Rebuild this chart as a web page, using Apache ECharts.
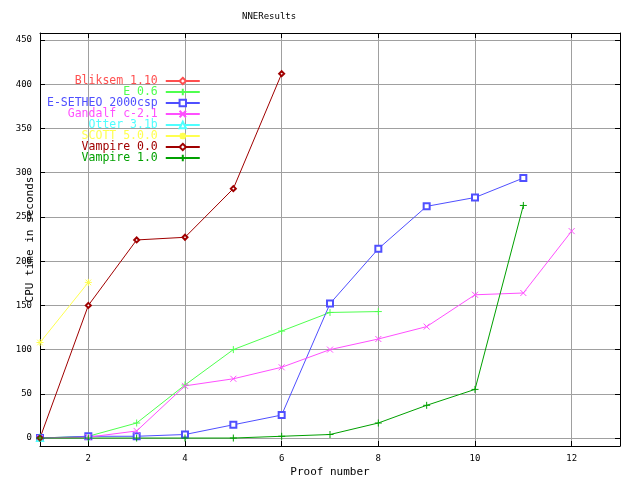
<!DOCTYPE html>
<html><head><meta charset="utf-8">
<script src="https://cdn.jsdelivr.net/npm/echarts@6/dist/echarts.min.js"></script>
<style>html,body{margin:0;padding:0;background:#fff}#c{width:640px;height:480px}</style>
</head><body><div id="c"></div>
<script>
const seriesNames = ["Bliksem 1.10","E 0.6","E-SETHEO 2000csp","Gandalf c-2.1","Otter 3.1b","SCOTT 5.0.0","Vampire 0.0","Vampire 1.0"];
const bliksem = [[1,0]];
const e06 = [[1,0],[2,2],[3,17],[4,60],[5,100],[6,121],[7,142],[8,143]];
const esetheo = [[1,0],[2,2],[3,2],[4,4],[5,15],[6,26],[7,152],[8,214],[9,262],[10,272],[11,294]];
const gandalf = [[1,0],[2,1],[3,8],[4,59],[5,67],[6,80],[7,100],[8,112],[9,126],[10,162],[11,164],[12,234]];
const otter = [[1,0]];
const scott = [[1,108],[2,176]];
const vampire0 = [[1,0],[2,150],[3,224],[4,227],[5,282],[6,412]];
const vampire1 = [[1,0],[2,0],[3,0],[4,0],[5,0],[6,2],[7,4],[8,17],[9,37],[10,55],[11,263]];
const xTicks = [2,4,6,8,10,12];
const yTicks = [0,50,100,150,200,250,300,350,400,450];

const colors = ["#ff4f4f","#4fff4f","#4f4fff","#ff4fff","#4fffff","#ffff4f","#a00000","#00a000"];
const plus = 'path://M0,5L10,5M5,0L5,10';
const cross = 'path://M0,0L10,10M0,10L10,0';
const star = 'path://M0,5L10,5M5,0L5,10M1,1L9,9M1,9L9,1';
const symbols = ['emptyDiamond', plus, 'emptyRect', cross, 'emptyTriangle', star, 'emptyDiamond', plus];
const sizes = [5,7,6,6,6,7,5,7];
const datas = [bliksem,e06,esetheo,gandalf,otter,scott,vampire0,vampire1];
const font = '"DejaVu Sans Mono", monospace';

const series = seriesNames.map((n,i)=>({
  name:n, type:'line', data:datas[i], symbol:symbols[i], symbolSize:sizes[i],
  showAllSymbol:true, animation:false,
  lineStyle:{color:colors[i], width:1},
  itemStyle:{color:colors[i], borderColor:colors[i], borderWidth:1},
  emphasis:{disabled:true}
}));
const gridColor = '#a0a0a0';

const chart = echarts.init(document.getElementById('c'));
chart.setOption({
  backgroundColor:'#fff',
  animation:false,
  title:{text:'NNEResults', left:237, top:7, textStyle:{fontFamily:font, fontSize:9, fontWeight:'normal', color:'#000'}},
  legend:{orient:'vertical', left:42, top:70, align:'right', itemWidth:34, itemHeight:8, itemGap:-1,
    data:seriesNames.map((n,i)=>({name:n, textStyle:{color:colors[i]}})),
    textStyle:{fontFamily:font, fontSize:11.5, padding:[0,3,0,0]}, selectedMode:false},
  grid:{left:40, right:20, top:33, bottom:34, containLabel:false, outerBoundsMode:'none'},
  xAxis:[{type:'value', min:1, max:13, interval:1, position:'bottom',
    name:'Proof number', nameLocation:'middle', nameGap:21, nameMoveOverlap:false,
    nameTextStyle:{fontFamily:font, fontSize:11, color:'#000'},
    axisLine:{show:true, onZero:false, lineStyle:{color:'#000', width:1}},
    axisTick:{show:true, inside:true, length:5, customValues:xTicks, lineStyle:{color:'#000'}},
    axisLabel:{customValues:xTicks, fontFamily:font, fontSize:9, color:'#000', margin:8},
    splitLine:{show:true, lineStyle:{color:gridColor, width:1}}},
   {type:'value', min:1, max:13, interval:1, position:'top',
    axisLine:{show:true, onZero:false, lineStyle:{color:'#000', width:1}},
    axisTick:{show:true, inside:true, length:5, customValues:xTicks, lineStyle:{color:'#000'}},
    axisLabel:{show:false}, splitLine:{show:false}}],
  yAxis:[{type:'value', min:-9, max:458, interval:1, position:'left',
    name:'CPU time in seconds', nameLocation:'middle', nameGap:4, nameRotate:90, nameMoveOverlap:false,
    nameTextStyle:{fontFamily:font, fontSize:11, color:'#000'},
    axisLine:{show:true, onZero:false, lineStyle:{color:'#000', width:1}},
    axisTick:{show:true, inside:true, length:5, customValues:yTicks, lineStyle:{color:'#000'}},
    axisLabel:{customValues:yTicks, fontFamily:font, fontSize:9, color:'#000', margin:8},
    splitLine:{show:true, lineStyle:{color:gridColor, width:1}}},
   {type:'value', min:-9, max:458, interval:1, position:'right',
    axisLine:{show:true, onZero:false, lineStyle:{color:'#000', width:1}},
    axisTick:{show:true, inside:true, length:5, customValues:yTicks, lineStyle:{color:'#000'}},
    axisLabel:{show:false}, splitLine:{show:false}}],
  series: series
});
</script></body></html>
